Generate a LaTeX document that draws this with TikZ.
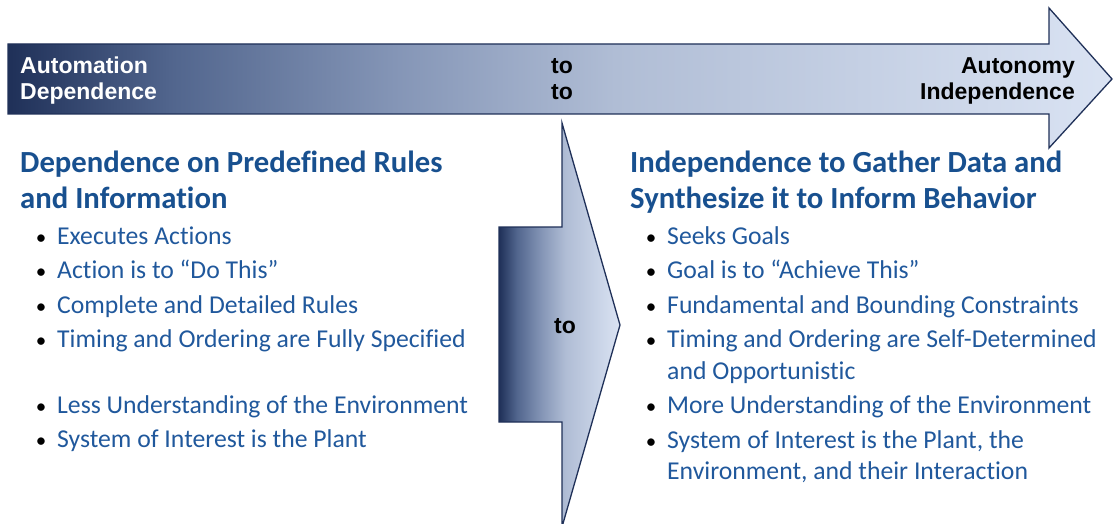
\documentclass[tikz,border=0pt]{standalone}
\usepackage{fontspec}
\setmainfont{Carlito}[Ligatures=NoCommon]
\newfontfamily\arialfont{Liberation Sans}
\definecolor{navy}{RGB}{31,48,88}
\definecolor{duskblue}{RGB}{82,102,142}
\definecolor{steelblue}{RGB}{132,149,182}
\definecolor{mistblue}{RGB}{176,189,213}
\definecolor{paleblue}{RGB}{218,227,243}
\definecolor{headblue}{RGB}{24,80,143}
\definecolor{itemblue}{RGB}{32,88,156}
\pgfdeclarehorizontalshading{barshade}{100bp}{color(0bp)=(navy); color(25bp)=(navy); color(32.5bp)=(duskblue); color(42.5bp)=(steelblue); color(52.5bp)=(mistblue); color(75bp)=(paleblue); color(100bp)=(paleblue)}
\begin{document}
\begin{tikzpicture}[x=1pt,y=-1pt,
  bar/.style={draw=navy,line width=1.3pt,shading=barshade},
  bartext/.style={inner sep=0pt,font=\arialfont\bfseries\fontsize{23}{27}\selectfont},
  heading/.style={anchor=base west,inner sep=0pt,text=headblue,font=\bfseries\fontsize{30.7}{36}\selectfont},
  item/.style={anchor=base west,inner sep=0pt,text=itemblue,font=\fontsize{25.7}{32}\selectfont},
  dot/.style={anchor=base,inner sep=0pt,font=\fontsize{21}{32}\selectfont}]
  \useasboundingbox (0,0) rectangle (1114,524);
  \shade[bar] (8,44) -- (1049,44) -- (1049,8) -- (1112,79) -- (1049,148) -- (1049,114) -- (8,114) -- cycle;
  \shade[bar] (499,227) -- (562,227) -- (562,123) -- (620,325) -- (562,527) -- (562,422) -- (499,422) -- cycle;
  \node[bartext,anchor=base west,text=white] (automation) at (20,74) {Automation};
  \node[bartext,anchor=base west,text=white] (dependence) at (20,100) {Dependence};
  \node[bartext,anchor=base west] (toa) at (551,74) {to};
  \node[bartext,anchor=base west] (tob) at (551,100) {to};
  \node[bartext,anchor=base east] (autonomy) at (1075,74) {Autonomy};
  \node[bartext,anchor=base east] (independence) at (1075,100) {Independence};
  \node[bartext,anchor=base] (toc) at (565,333) {to};
  \node[heading] (lefthead1) at (20,172) {Dependence on Predefined Rules};
  \node[heading] (lefthead2) at (20,208) {and Information};
  \node[dot] (ldot1) at (41,244) {•};
  \node[item] (litem1) at (57,244) {Executes Actions};
  \node[dot] (ldot2) at (41,278) {•};
  \node[item] (litem2) at (57,278) {Action is to “Do This”};
  \node[dot] (ldot3) at (41,313) {•};
  \node[item] (litem3) at (57,313) {Complete and Detailed Rules};
  \node[dot] (ldot4) at (41,347) {•};
  \node[item] (litem4) at (57,347) {Timing and Ordering are Fully Specified};
  \node[dot] (ldot5) at (41,413) {•};
  \node[item] (litem5) at (57,413) {Less Understanding of the Environment};
  \node[dot] (ldot6) at (41,447) {•};
  \node[item] (litem6) at (57,447) {System of Interest is the Plant};
  \node[heading] (righthead1) at (630,172) {Independence to Gather Data and};
  \node[heading] (righthead2) at (630,208) {Synthesize it to Inform Behavior};
  \node[dot] (rdot1) at (651,244) {•};
  \node[item] (ritem1) at (667,244) {Seeks Goals};
  \node[dot] (rdot2) at (651,278) {•};
  \node[item] (ritem2) at (667,278) {Goal is to “Achieve This”};
  \node[dot] (rdot3) at (651,313) {•};
  \node[item] (ritem3) at (667,313) {Fundamental and Bounding Constraints};
  \node[dot] (rdot4) at (651,347) {•};
  \node[item] (ritem4) at (667,347) {Timing and Ordering are Self-Determined};
  \node[item] (ritem4b) at (667,379) {and Opportunistic};
  \node[dot] (rdot5) at (651,413) {•};
  \node[item] (ritem5) at (667,413) {More Understanding of the Environment};
  \node[dot] (rdot6) at (651,448) {•};
  \node[item] (ritem6) at (667,448) {System of Interest is the Plant, the};
  \node[item] (ritem6b) at (667,479) {Environment, and their Interaction};
\end{tikzpicture}
\end{document}
